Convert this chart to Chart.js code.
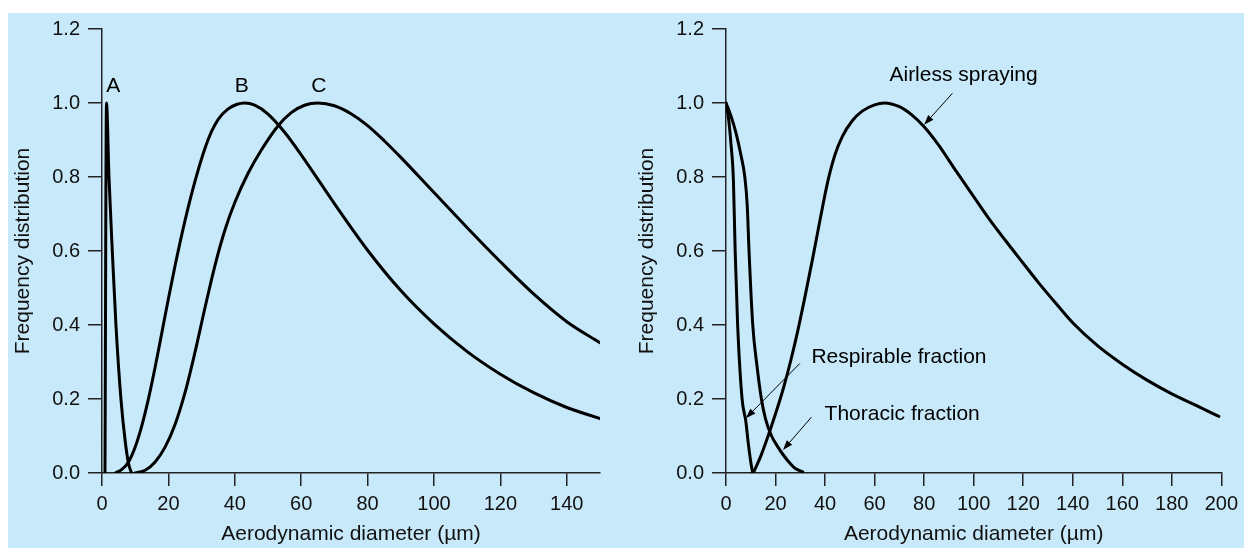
<!DOCTYPE html>
<html>
<head>
<meta charset="utf-8">
<script src="https://cdn.jsdelivr.net/npm/chart.js@4.4.1/dist/chart.umd.min.js"></script>
<style>
  html, body { margin: 0; padding: 0; background: #fff; }
  #wrap { position: relative; width: 1244px; height: 548px; overflow: hidden; }
  #bg { position: absolute; left: 8px; top: 13px; right: 0; bottom: 0; background: #c8e9f9; }
  canvas { position: absolute; top: 0; }
  #left { left: 0; }
  #right { left: 622px; }
</style>
</head>
<body>
<div id="wrap">
  <div id="bg"></div>
  <canvas id="left" width="622" height="548"></canvas>
  <canvas id="right" width="622" height="548"></canvas>
</div>
<script>
// tick values
const leftXTicks = [0, 20, 40, 60, 80, 100, 120, 140];
const rightXTicks = [0, 20, 40, 60, 80, 100, 120, 140, 160, 180, 200];
const yTicks = [0, 0.2, 0.4, 0.6, 0.8, 1.0, 1.2];

// left panel: size distributions A, B, C
const aDiam = [0.9, 1.35, 2.1, 3.1, 4.2, 5.7, 7.0, 8.0, 8.9];
const aFreq = [0, 1.0, 0.8, 0.6, 0.4, 0.2, 0.085, 0.025, 0];

const bDiam = [4, 6, 8, 10, 12, 14, 16, 18, 20, 22, 25, 28, 31, 33, 35, 38, 40.5, 43, 46, 50, 55, 60, 70, 80, 90, 100, 110, 120, 130, 140, 150];
const bFreq = [0, 0.01, 0.03, 0.07, 0.128, 0.201, 0.286, 0.378, 0.471, 0.56, 0.682, 0.788, 0.877, 0.923, 0.956, 0.984, 0.996, 1.0, 0.994, 0.97, 0.921, 0.86, 0.728, 0.602, 0.493, 0.403, 0.328, 0.267, 0.217, 0.177, 0.147];

const cDiam = [10, 13, 16, 19, 22, 25, 28, 31, 34, 37, 40, 44, 48, 53, 57, 61, 65, 70, 75, 80, 85, 90, 100, 110, 120, 130, 140, 150];
const cFreq = [0, 0.0075, 0.03, 0.07, 0.131, 0.217, 0.326, 0.446, 0.56, 0.656, 0.731, 0.81, 0.873, 0.938, 0.974, 0.994, 1.0, 0.9925, 0.971, 0.939, 0.898, 0.853, 0.758, 0.663, 0.571, 0.484, 0.409, 0.352];

// right panel: airless spraying vs. respirable / thoracic conventions
const respDiam = [0, 1, 2, 3, 3.7, 4.7, 6.5, 8, 9, 10, 10.8];
const respFreq = [1.0, 0.96, 0.89, 0.79, 0.6, 0.4, 0.2, 0.14, 0.08, 0.03, 0];

const thorDiam = [0, 2, 4, 6, 7.6, 8.6, 9.3, 10.8, 12.5, 14.3, 16, 18.4, 21, 23, 26, 28, 31];
const thorFreq = [1.0, 0.965, 0.92, 0.86, 0.8, 0.72, 0.6, 0.4, 0.29, 0.2, 0.145, 0.1, 0.07, 0.05, 0.025, 0.012, 0.003];

const sprayDiam = [11, 14, 17, 20, 23, 26, 29, 32, 35, 38, 41, 44, 47, 51, 55, 60, 64, 70, 75, 80, 86, 93, 100, 106, 113, 120, 126, 133, 140, 150, 160, 170, 180, 190, 199];
const sprayFreq = [0, 0.045, 0.1, 0.16, 0.225, 0.3, 0.385, 0.48, 0.58, 0.685, 0.785, 0.86, 0.91, 0.952, 0.978, 0.995, 1.0, 0.99, 0.968, 0.936, 0.885, 0.815, 0.747, 0.689, 0.627, 0.567, 0.516, 0.46, 0.406, 0.344, 0.294, 0.251, 0.214, 0.182, 0.153];

// curve labels and arrows, in data units
const leftLabels = [
  { text: 'A', x: 3.4, y: 1.046, align: 'center' },
  { text: 'B', x: 42.1, y: 1.046, align: 'center' },
  { text: 'C', x: 65.3, y: 1.046, align: 'center' }
];
const rightLabels = [
  { text: 'Airless spraying', x: 66, y: 1.074, align: 'left' },
  { text: 'Respirable fraction', x: 34.5, y: 0.314, align: 'left' },
  { text: 'Thoracic fraction', x: 39.8, y: 0.159, align: 'left' }
];
const rightArrows = [
  { from: [91.4, 1.026], to: [80.0, 0.941] },
  { from: [29.8, 0.296], to: [8.0, 0.148] },
  { from: [34.5, 0.151], to: [23.0, 0.062] }
];

const FONT = '"Liberation Sans", Arial, Helvetica, sans-serif';
const INK = '#222';

const toPoints = (xs, ys) => xs.map((x, i) => ({ x: x, y: ys[i] }));

const curve = (xs, ys) => ({
  data: toPoints(xs, ys),
  showLine: true,
  borderColor: '#000',
  borderWidth: 3,
  pointRadius: 0,
  cubicInterpolationMode: 'monotone',
  borderJoinStyle: 'round',
  borderCapStyle: 'round'
});

const annotate = {
  id: 'annotate',
  afterDatasetsDraw(chart, args, opts) {
    const { ctx } = chart;
    const xs = chart.scales.x, ys = chart.scales.y;
    ctx.save();
    ctx.fillStyle = '#000';
    ctx.font = '21px ' + FONT;
    ctx.textBaseline = 'middle';
    (opts.labels || []).forEach(l => {
      ctx.textAlign = l.align;
      ctx.fillText(l.text, xs.getPixelForValue(l.x), ys.getPixelForValue(l.y));
    });
    (opts.arrows || []).forEach(a => {
      const x0 = xs.getPixelForValue(a.from[0]), y0 = ys.getPixelForValue(a.from[1]);
      const x1 = xs.getPixelForValue(a.to[0]), y1 = ys.getPixelForValue(a.to[1]);
      const ang = Math.atan2(y1 - y0, x1 - x0);
      const len = 10, half = 3.5;
      const bx = x1 - len * Math.cos(ang), by = y1 - len * Math.sin(ang);
      ctx.strokeStyle = '#000';
      ctx.lineWidth = 1;
      ctx.beginPath();
      ctx.moveTo(x0, y0);
      ctx.lineTo(bx, by);
      ctx.stroke();
      ctx.beginPath();
      ctx.moveTo(x1, y1);
      ctx.lineTo(bx + half * Math.sin(ang), by - half * Math.cos(ang));
      ctx.lineTo(bx - half * Math.sin(ang), by + half * Math.cos(ang));
      ctx.closePath();
      ctx.fill();
    });
    ctx.restore();
  }
};

function makeChart(id, datasets, xMax, xTicks, yAxisWidth, padRight, yTitlePad, labels, arrows) {
  const ctx = document.getElementById(id).getContext('2d');
  return new Chart(ctx, {
    type: 'scatter',
    data: { datasets: datasets },
    plugins: [annotate],
    options: {
      responsive: false,
      animation: false,
      events: [],
      layout: { padding: { top: 29, right: padRight, bottom: 0, left: 0 } },
      plugins: {
        legend: { display: false },
        tooltip: { enabled: false },
        annotate: { labels: labels, arrows: arrows }
      },
      scales: {
        x: {
          type: 'linear',
          min: 0,
          max: xMax,
          afterFit: s => { s.height = 75; },
          afterBuildTicks: s => { s.ticks = xTicks.map(v => ({ value: v })); },
          border: { display: true, color: INK, width: 1.5 },
          grid: { drawOnChartArea: false, drawTicks: true, tickLength: 13, color: INK, lineWidth: 1.5 },
          ticks: { padding: 6, color: '#111', font: { family: FONT, size: 20 }, maxRotation: 0, autoSkip: false },
          title: {
            display: true,
            text: 'Aerodynamic diameter (\u00b5m)',
            color: '#111',
            font: { family: FONT, size: 21 },
            padding: { top: 0, bottom: 1 }
          }
        },
        y: {
          type: 'linear',
          min: 0,
          max: 1.2,
          afterFit: s => { s.width = yAxisWidth; },
          afterBuildTicks: s => { s.ticks = yTicks.map(v => ({ value: v })); },
          border: { display: true, color: INK, width: 1.5 },
          grid: { drawOnChartArea: false, drawTicks: true, tickLength: 14, color: INK, lineWidth: 1.5 },
          ticks: {
            padding: 8,
            color: '#111',
            font: { family: FONT, size: 20 },
            autoSkip: false,
            callback: v => v.toFixed(1)
          },
          title: {
            display: true,
            text: 'Frequency distribution',
            color: '#111',
            font: { family: FONT, size: 21 },
            padding: { top: yTitlePad, bottom: 0 }
          }
        }
      }
    }
  });
}

makeChart('left', [
  curve(aDiam, aFreq),
  curve(bDiam, bFreq),
  curve(cDiam, cFreq)
], 150, leftXTicks, 102, 22, 11, leftLabels, []);

makeChart('right', [
  curve(respDiam, respFreq),
  curve(thorDiam, thorFreq),
  curve(sprayDiam, sprayFreq)
], 200, rightXTicks, 104, 21, 13, rightLabels, rightArrows);
</script>
</body>
</html>
